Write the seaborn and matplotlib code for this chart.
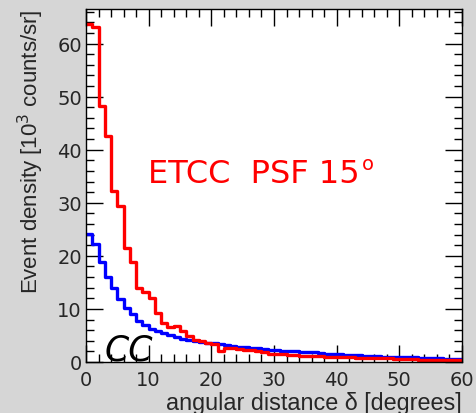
import numpy as np
import pandas as pd
import matplotlib
matplotlib.use("Agg")
import matplotlib.pyplot as plt
import seaborn as sns
from matplotlib.ticker import MultipleLocator

# Bin edges in degrees (1-degree bins from 0 to 60)
bin_edges = list(range(0, 61))

etcc_density = [63.6, 63.1, 48.2, 42.6, 32.2, 29.4, 21.4, 18.75, 13.85, 13.2,
                12.15, 9.3, 7.4, 6.5, 6.7, 5.85, 4.9, 4.15, 4.0, 3.6,
                3.3, 2.0, 2.7, 2.6, 2.4, 2.3, 2.2, 2.0, 1.8, 1.5,
                1.6, 1.5, 1.4, 1.3, 1.2, 1.2, 1.1, 1.1, 1.0, 1.0,
                1.0, 0.9, 0.9, 0.8, 0.8, 0.8, 0.7, 0.7, 0.7, 0.6,
                0.6, 0.6, 0.5, 0.3, 0.3, 0.3, 0.3, 0.3, 0.3, 0.3]

cc_density = [24.2, 22.2, 18.9, 16.0, 13.85, 11.8, 10.25, 9.0, 7.75, 6.9,
              6.3, 5.85, 5.55, 5.1, 4.7, 4.3, 4.1, 4.0, 3.8, 3.6,
              3.5, 3.3, 3.2, 3.0, 2.9, 2.8, 2.7, 2.6, 2.4, 2.3,
              2.2, 2.1, 2.0, 2.0, 1.9, 1.8, 1.8, 1.7, 1.6, 1.5,
              1.5, 1.4, 1.3, 1.3, 1.2, 1.1, 1.1, 1.0, 1.0, 1.0,
              0.9, 0.9, 0.9, 0.8, 0.8, 0.7, 0.7, 0.6, 0.5, 0.5]

x_ticks = [0, 10, 20, 30, 40, 50, 60]
y_ticks = [0, 10, 20, 30, 40, 50, 60]

centers = [(a + b) / 2 for a, b in zip(bin_edges[:-1], bin_edges[1:])]
df = pd.DataFrame({
    "delta": centers * 2,
    "density": etcc_density + cc_density,
    "method": ["ETCC"] * len(centers) + ["CC"] * len(centers),
})

sns.set_style("ticks")
plt.rcParams["font.family"] = ["Liberation Sans", "DejaVu Sans"]

fig = plt.figure(figsize=(4.76, 4.14), dpi=100)
fig.patch.set_facecolor("#d6d6d6")
ax = fig.add_axes([86 / 476, 1 - 363 / 414, (462 - 86) / 476, (363 - 9.5) / 414])
ax.set_facecolor("white")

sns.histplot(data=df, x="delta", weights="density", hue="method",
             bins=bin_edges, element="step", fill=False,
             palette={"ETCC": "#ff0000", "CC": "#0000ff"},
             hue_order=["ETCC", "CC"], legend=False, linewidth=2.4, ax=ax)

ax.set_xlim(0, 60)
ax.set_ylim(0, 66.6)
ax.set_xticks(x_ticks)
ax.set_yticks(y_ticks)
ax.xaxis.set_minor_locator(MultipleLocator(2))
ax.yaxis.set_minor_locator(MultipleLocator(2))
ax.tick_params(which="both", direction="in", top=True, right=True,
               labelsize=14, width=1, color="black")
ax.tick_params(which="major", length=12)
ax.tick_params(which="minor", length=6)
ax.tick_params(axis="x", pad=6)
ax.tick_params(axis="y", pad=3)
for lab in ax.get_xticklabels() + ax.get_yticklabels():
    lab.set_family(["DejaVu Sans"])
for s in ax.spines.values():
    s.set_linewidth(1)
    s.set_color("black")

ax.set_xlabel("angular distance δ [degrees]", fontsize=16.8, loc="right",
              labelpad=1)
ax.set_ylabel("Event density [10$^3$ counts/sr]", fontsize=16, loc="top",
              labelpad=8)

ax.text(0.165, 0.509, "ETCC  PSF 15", transform=ax.transAxes, color="#ff0000",
        fontsize=23, family=["DejaVu Sans"], va="baseline", ha="left")
ax.text(0.733, 0.545, "o", transform=ax.transAxes, color="#ff0000",
        fontsize=14, family=["DejaVu Sans"], va="baseline", ha="left")
ax.text(0.048, 0.006, "CC", transform=ax.transAxes, color="black",
        fontsize=25, family=["DejaVu Sans"], style="italic",
        va="baseline", ha="left")

fig.savefig("out.png", dpi=100, facecolor=fig.get_facecolor())
